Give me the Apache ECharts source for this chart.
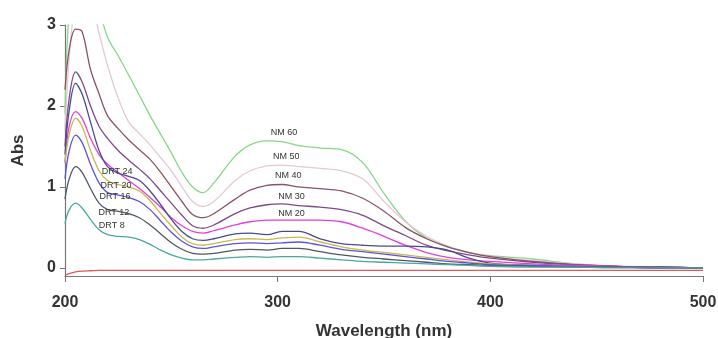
<!DOCTYPE html>
<html>
<head>
<meta charset="utf-8">
<script src="https://cdn.jsdelivr.net/npm/echarts@6/dist/echarts.min.js"></script>
<style>
  html, body { margin: 0; padding: 0; background: #fff; }
  #chart { width: 718px; height: 338px; }
</style>
</head>
<body>
<div id="chart"></div>
<script>
// wavelength grid (nm)
const wavelengths = [200, 202, 205, 208, 212, 216, 220, 225, 230, 235, 240, 245, 250, 255, 260, 265, 270, 280, 287, 295, 302, 310, 320, 330, 340, 350, 360, 370, 380, 390, 400, 420, 440, 460, 480, 500]

const nm60 = [1.9, 3.2, 3.6, 3.6, 3.5, 3.2, 2.85, 2.62, 2.38, 2.13, 1.88, 1.65, 1.42, 1.18, 1.0, 0.93, 1.05, 1.38, 1.52, 1.57, 1.56, 1.51, 1.48, 1.46, 1.3, 0.92, 0.58, 0.37, 0.26, 0.19, 0.15, 0.11, 0.05, 0.02, 0.01, 0.0]
const nm50 = [1.7, 2.6, 3.3, 3.4, 3.3, 2.9, 2.5, 2.1, 1.8, 1.66, 1.52, 1.36, 1.2, 1.0, 0.82, 0.76, 0.82, 1.08, 1.2, 1.26, 1.27, 1.25, 1.23, 1.2, 1.1, 0.82, 0.57, 0.39, 0.27, 0.19, 0.14, 0.09, 0.05, 0.02, 0.01, 0.0]
const nm40 = [2.2, 2.7, 2.95, 2.92, 2.45, 2.15, 1.88, 1.72, 1.58, 1.46, 1.34, 1.18, 1.0, 0.82, 0.66, 0.62, 0.67, 0.85, 0.96, 1.02, 1.03, 1.0, 0.98, 0.95, 0.86, 0.7, 0.5, 0.36, 0.26, 0.19, 0.14, 0.08, 0.04, 0.02, 0.01, 0.0]
const nm30 = [1.5, 2.1, 2.42, 2.3, 2.0, 1.75, 1.6, 1.45, 1.33, 1.22, 1.1, 0.95, 0.8, 0.65, 0.52, 0.49, 0.53, 0.67, 0.74, 0.78, 0.79, 0.77, 0.75, 0.72, 0.65, 0.52, 0.4, 0.28, 0.21, 0.16, 0.12, 0.07, 0.04, 0.02, 0.01, 0.0]
const nm20 = [1.3, 1.75, 1.93, 1.85, 1.6, 1.4, 1.28, 1.18, 1.08, 0.98, 0.87, 0.75, 0.62, 0.52, 0.45, 0.43, 0.46, 0.53, 0.57, 0.59, 0.59, 0.59, 0.59, 0.57, 0.49, 0.39, 0.28, 0.19, 0.13, 0.1, 0.08, 0.05, 0.03, 0.02, 0.01, 0.0]
const drt24 = [1.4, 1.95, 2.28, 2.15, 1.8, 1.45, 1.25, 1.17, 1.13, 1.08, 0.95, 0.78, 0.6, 0.45, 0.36, 0.34, 0.36, 0.42, 0.43, 0.41, 0.45, 0.45, 0.36, 0.3, 0.28, 0.27, 0.27, 0.26, 0.22, 0.12, 0.06, 0.03, 0.02, 0.01, 0.01, 0.0]
const drt20 = [1.3, 1.65, 1.85, 1.75, 1.45, 1.2, 1.08, 1.03, 1.0, 0.95, 0.83, 0.67, 0.52, 0.38, 0.3, 0.28, 0.3, 0.35, 0.36, 0.35, 0.37, 0.38, 0.32, 0.26, 0.22, 0.19, 0.16, 0.13, 0.1, 0.07, 0.05, 0.03, 0.02, 0.01, 0.0, 0.0]
const drt16 = [1.1, 1.45, 1.64, 1.55, 1.28, 1.05, 0.93, 0.9, 0.87, 0.82, 0.72, 0.58, 0.44, 0.33, 0.26, 0.24, 0.26, 0.3, 0.31, 0.3, 0.31, 0.32, 0.28, 0.23, 0.2, 0.17, 0.14, 0.11, 0.08, 0.06, 0.04, 0.03, 0.02, 0.01, 0.0, 0.0]
const drt12 = [0.85, 1.1, 1.25, 1.18, 0.98, 0.8, 0.72, 0.7, 0.67, 0.62, 0.53, 0.42, 0.31, 0.23, 0.18, 0.17, 0.18, 0.22, 0.23, 0.22, 0.24, 0.24, 0.2, 0.16, 0.13, 0.11, 0.09, 0.07, 0.05, 0.04, 0.03, 0.02, 0.01, 0.01, 0.0, 0.0]
const drt8 = [0.55, 0.72, 0.8, 0.74, 0.6, 0.47, 0.41, 0.39, 0.38, 0.35, 0.29, 0.22, 0.16, 0.12, 0.1, 0.1, 0.11, 0.13, 0.14, 0.13, 0.14, 0.14, 0.12, 0.1, 0.08, 0.07, 0.06, 0.05, 0.04, 0.03, 0.02, 0.01, 0.01, 0.0, 0.0, 0.0]
const blank = [-0.09, -0.07, -0.05, -0.04, -0.035, -0.03, -0.03, -0.03, -0.03, -0.03, -0.03, -0.03, -0.03, -0.03, -0.03, -0.03, -0.03, -0.03, -0.03, -0.03, -0.03, -0.03, -0.03, -0.03, -0.03, -0.03, -0.03, -0.03, -0.03, -0.03, -0.03, -0.03, -0.03, -0.03, -0.03, -0.03]

const seriesNames = ['NM 60', 'NM 50', 'NM 40', 'NM 30', 'NM 20', 'DRT 24', 'DRT 20', 'DRT 16', 'DRT 12', 'DRT 8', 'blank']
const seriesValues = [nm60, nm50, nm40, nm30, nm20, drt24, drt20, drt16, drt12, drt8, blank]
const seriesColors = ['#86d886', '#e6c8d6', '#8e5262', '#7c4a86', '#e040dc', '#4a4a8e', '#cbb84a', '#5c54dc', '#4e5862', '#4aa8a0', '#e05858']
// where each curve name sits, [nm, Abs]
const labelPos = [[303, 1.67], [304, 1.37], [305, 1.14], [306.5, 0.88], [306.5, 0.67], [224.5, 1.19], [224, 1.02], [223.5, 0.88], [223, 0.69], [222, 0.52], null]
const yTicks = [0, 1, 2, 3]

const chart = echarts.init(document.getElementById('chart'))

const series = seriesNames.map(function (name, i) {
  const s = {
    name: name,
    type: 'line',
    smooth: 0.35,
    showSymbol: false,
    clip: true,
    lineStyle: { width: 1.3, color: seriesColors[i] },
    data: wavelengths.map(function (w, j) { return [w, seriesValues[i][j]] })
  }
  if (labelPos[i]) {
    s.markPoint = {
      symbol: 'circle',
      symbolSize: 0,
      silent: true,
      data: [{ coord: labelPos[i] }],
      label: {
        show: true,
        position: 'inside',
        formatter: name,
        color: '#333',
        fontSize: 9,
        fontFamily: 'Liberation Sans Narrow, Arial, sans-serif'
      }
    }
  }
  return s
})

chart.setOption({
  animation: false,
  grid: { left: 65, right: 15, top: 25, bottom: 62, outerBoundsMode: 'none' },
  xAxis: {
    type: 'value',
    min: 200,
    max: 500,
    interval: 100,
    name: 'Wavelength (nm)',
    nameLocation: 'middle',
    nameGap: 47,
    nameTextStyle: { fontSize: 17, fontWeight: 'bold', color: '#333', fontFamily: 'Liberation Sans, Arial' },
    axisLine: { onZero: false, lineStyle: { color: '#777', width: 1.2 } },
    axisTick: { show: true, length: 6, lineStyle: { color: '#777' } },
    axisLabel: { fontSize: 16, fontWeight: 'bold', color: '#333', margin: 19, fontFamily: 'Liberation Sans, Arial' },
    splitLine: { show: false }
  },
  yAxis: {
    type: 'value',
    min: -0.1,
    max: 3,
    name: 'Abs',
    nameLocation: 'middle',
    nameGap: 38,
    nameTextStyle: { fontSize: 17, fontWeight: 'bold', color: '#333', fontFamily: 'Liberation Sans, Arial' },
    axisLine: { show: true, lineStyle: { color: '#777', width: 1.2 } },
    axisTick: { show: true, length: 5, customValues: yTicks, lineStyle: { color: '#777' } },
    axisLabel: { fontSize: 16, fontWeight: 'bold', color: '#333', margin: 9, customValues: yTicks, fontFamily: 'Liberation Sans, Arial' },
    splitLine: { show: false }
  },
  series: series
})
</script>
</body>
</html>
